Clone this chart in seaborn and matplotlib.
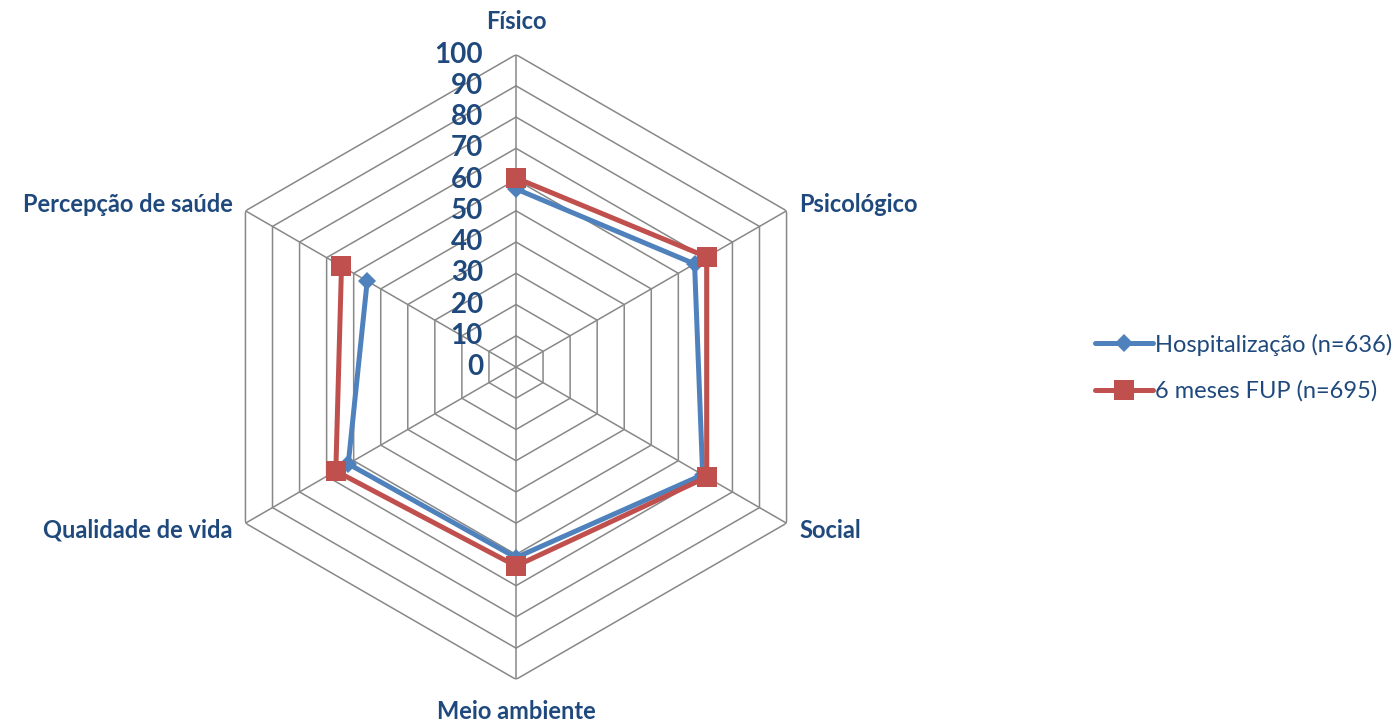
import numpy as np
import matplotlib.pyplot as plt
import seaborn as sns

# Data
categories = ['Físico', 'Psicológico', 'Social', 'Meio ambiente',
              'Qualidade de vida', 'Percepção de saúde']
hospitalizacao = [57, 66, 69, 61, 62, 55]
seis_meses = [60.5, 70.5, 70.5, 63.7, 66.6, 64.5]
series_names = ['Hospitalização (n=636)', '6 meses FUP (n=695)']
r_ticks = [0, 10, 20, 30, 40, 50, 60, 70, 80, 90, 100]

sns.set_style('white')
plt.rcParams['font.family'] = ['Lato', 'DejaVu Sans']

text_color = '#1F497D'
grid_color = '#888888'
blue = '#4F81BD'
red = '#C0504D'

W, H = 1396, 721
fig = plt.figure(figsize=(W / 100, H / 100), dpi=100)

# radar centre and radius (pixels)
cx, cy, R = 516, H - 367, 312.4
ax = fig.add_axes([(cx - R) / W, (cy - R) / H, 2 * R / W, 2 * R / H], projection='polar')
ax.set_theta_zero_location('N')
ax.set_theta_direction(-1)
ax.set_ylim(0, 100)
ax.grid(False)
ax.spines['polar'].set_visible(False)
ax.set_xticks([])
ax.set_yticks([])
ax.patch.set_alpha(0)

n = len(categories)
angles = np.linspace(0, 2 * np.pi, n, endpoint=False)
closed = np.append(angles, angles[0])

# hexagonal grid
for r in r_ticks[1:]:
    ax.plot(closed, [r] * (n + 1), color=grid_color, lw=1.1, zorder=1)
for a in angles:
    ax.plot([a, a], [0, 100], color=grid_color, lw=1.1, zorder=1)

# series
sns.lineplot(x=closed, y=hospitalizacao + hospitalizacao[:1], sort=False, ax=ax,
             color=blue, lw=3.6, marker='D', markersize=9, markeredgewidth=0,
             label=series_names[0], zorder=3)
sns.lineplot(x=closed, y=seis_meses + seis_meses[:1], sort=False, ax=ax,
             color=red, lw=3.6, marker='s', markersize=14.5, markeredgewidth=0,
             label=series_names[1], zorder=4)
handles, labels = ax.get_legend_handles_labels()
ax.get_legend().remove()

# radial tick labels
for t in r_ticks:
    ax.annotate(str(t), xy=(0, t), xytext=(-33, 0), textcoords='offset pixels',
                ha='right', va='center', fontsize=20, fontweight='bold',
                color=text_color, annotation_clip=False)

# category labels
offsets = [(0, 33, 'center'), (13, 6, 'left'), (13, -7, 'left'),
           (0, -32, 'center'), (-13, -7, 'right'), (-13, 6, 'right')]
for a, lab, (dx, dy, ha) in zip(angles, categories, offsets):
    ax.annotate(lab, xy=(a, 100), xytext=(dx, dy), textcoords='offset pixels',
                ha=ha, va='center', fontsize=17, fontweight='bold',
                color=text_color, annotation_clip=False)

fig.legend(handles, labels, loc='center left', bbox_to_anchor=(1083 / W, 0.49),
           frameon=False, fontsize=17, handlelength=2.45, handletextpad=0.1,
           borderpad=0, labelspacing=1.05, labelcolor=text_color)

fig.savefig('out.png', dpi=100)
